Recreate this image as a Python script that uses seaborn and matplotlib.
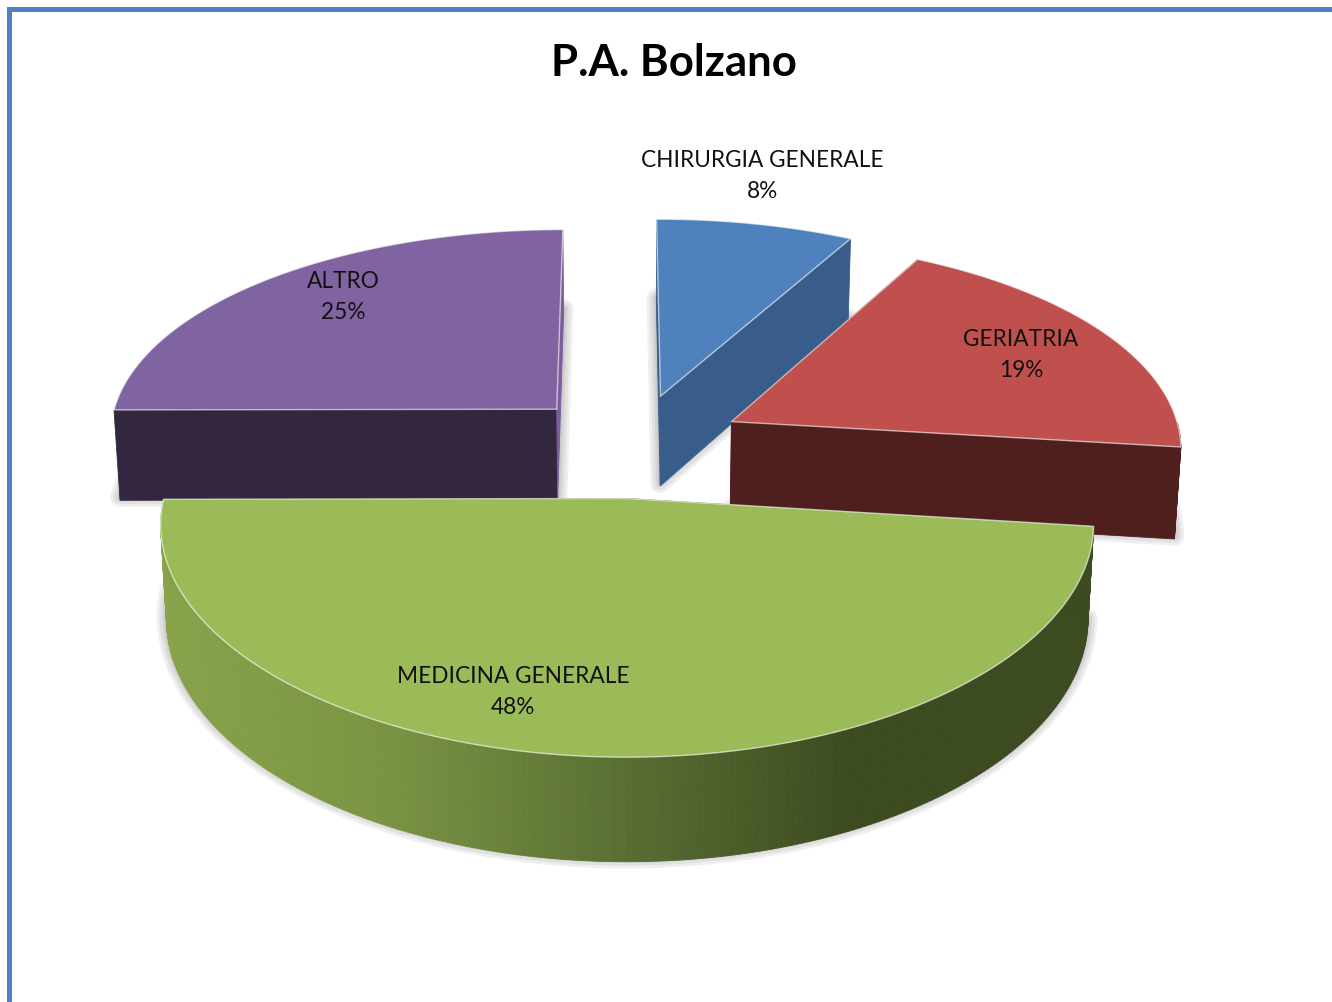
import numpy as np
import matplotlib.pyplot as plt
from matplotlib.patches import Rectangle
import seaborn as sns

title = 'P.A. Bolzano'
categories = ['CHIRURGIA GENERALE', 'GERIATRIA', 'MEDICINA GENERALE', 'ALTRO']
values = [8, 19, 48, 25]

top_colors = ['#4F81BD', '#C0504D', '#9BBB59', '#8064A2']
wall_colors = ['#385D8A', '#4F1F1E', '#3D4B20', '#33273F']
end_wall_colors = ['#385D8A', '#4F1F1E', '#3D4B20', '#7A5D9A']
label_pos = [(762, 176), (1021, 355), (513, 692), (343, 297)]

# perspective of the pie, fitted on the picture (pixels)
CX, CY = 634, 445
FX, FY, H = 451, 211, 93
K_X, K_DEPTH, K_Z = 0.11, 0.127, 0.012
EXPLODE = 0.246
START = np.radians(-0.2)

sns.set_theme(style='white')
plt.rcParams['font.family'] = ['Lato', 'DejaVu Sans']


def project(X, Y, Z=0.0):
    Y = np.asarray(Y)
    sx = 1 / (1 + K_X * Y - K_Z * Z)
    sy = 1 / (1 + K_DEPTH * Y - K_Z * Z)
    return CX + FX * np.asarray(X) * sx, CY - FY * Y * sy - H * Z * sy


def rim(theta, ox, oy):
    return ox + np.sin(theta), oy + np.cos(theta)


def wall(ax, x0, y0, x1, y1, color, z):
    # vertical quad strip between top and bottom of a line on the pie
    xa, ya = project(x0, y0, 0)
    xb, yb = project(x1, y1, 0)
    xc, yc = project(x1, y1, -1)
    xd, yd = project(x0, y0, -1)
    ax.fill([xa, xb, xc, xd], [ya, yb, yc, yd], color=color, lw=0.6, zorder=z)


fig, ax = plt.subplots(figsize=(13.32, 10.02), dpi=100)
ax.set_position([0, 0, 1, 1])
ax.set_xlim(0, 1332)
ax.set_ylim(1002, 0)
ax.axis('off')

# window frame, only top and left are in the picture
ax.add_patch(Rectangle((6.5, 7), 1326, 5, color='#4F81BD', lw=0))
ax.add_patch(Rectangle((6.5, 7), 5, 995, color='#4F81BD', lw=0))

fracs = np.array(values) / sum(values)
ends = START + np.cumsum(fracs) * 2 * np.pi
starts = ends - fracs * 2 * np.pi
mids = (starts + ends) / 2

front_ramp = sns.blend_palette(['#88A34A', '#7A9343', '#5A6F33', '#3D4B20'], 256)

# back slices first
z = 3
for i in np.argsort(-np.cos(mids)):
    t0, t1 = starts[i], ends[i]
    ox, oy = EXPLODE * np.sin(mids[i]), EXPLODE * np.cos(mids[i])
    th = np.linspace(t0, t1, 240)
    rx, ry = rim(th, ox, oy)
    px = np.r_[ox, rx, ox]
    py = np.r_[oy, ry, oy]

    # soft shadow around the foot of the slice
    sx, sy = project(px, py, -1)
    for lw in [14, 10, 6, 3]:
        ax.plot(sx, sy - 3, color='#555555', alpha=0.09, lw=lw, solid_joinstyle='round', zorder=z)
    z += 1

    x_s, y_s = rim(t0, ox, oy)
    x_e, y_e = rim(t1, ox, oy)
    wall(ax, ox, oy, x_s, y_s, wall_colors[i], z)
    wall(ax, ox, oy, x_e, y_e, end_wall_colors[i], z)

    # outer wall, only the part turned to the viewer
    front = np.cos(th) < 0
    if front.sum() > 1:
        fx, fy = rx[front], ry[front]
        x_left = project(fx, fy, 0)[0].min()
        for a in range(len(fx) - 1):
            xm = project(fx[a], fy[a], 0)[0]
            if top_colors[i] == '#9BBB59':
                u = np.clip((xm - x_left) / (850 - x_left), 0, 1)
                col = front_ramp[int(u * 255)]
            else:
                col = wall_colors[i]
            wall(ax, fx[a], fy[a], fx[a + 1], fy[a + 1], col, z)
    z += 1

    tx, ty = project(px, py, 0)
    ax.fill(tx, ty, color=top_colors[i], lw=0, zorder=z)
    ax.plot(tx, ty, color='white', alpha=0.6, lw=1.0, solid_joinstyle='round', zorder=z)
    z += 1

ax.text(674, 63, title, ha='center', va='center', fontsize=31.5, fontweight='bold',
        color='black', zorder=z)
for cat, val, (lx, ly) in zip(categories, values, label_pos):
    ax.text(lx, ly, f'{cat}\n{val}%', ha='center', va='center', fontsize=16.3,
            color='#111111', linespacing=1.6, zorder=z)

fig.savefig('out.png', dpi=100)
